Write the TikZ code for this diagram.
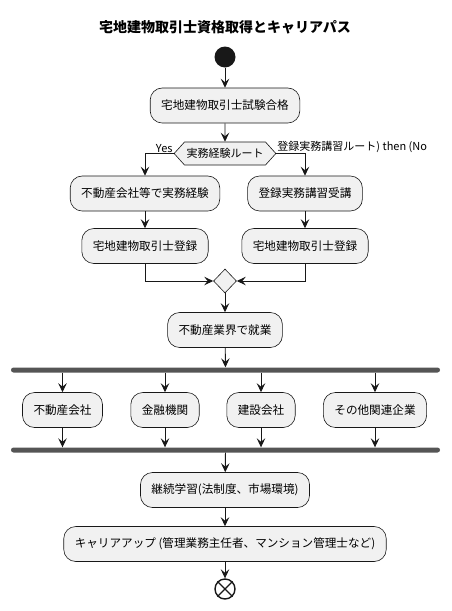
\documentclass[tikz,border=0pt]{standalone}
\usepackage{fontspec}
\setmainfont{Noto Sans CJK JP}
\usepackage{tikz}
\usetikzlibrary{arrows.meta, shapes.geometric, shapes.symbols}
\definecolor{boxfill}{HTML}{F1F1F1}
\definecolor{lineclr}{HTML}{181818}
\definecolor{barclr}{HTML}{555555}

\tikzset{
    act/.style={draw=lineclr, fill=boxfill, rounded corners=12pt, line width=0.6pt,
        minimum height=35pt, inner xsep=11pt, font=\fontsize{11.6}{13}\selectfont},
    arr/.style={draw=lineclr, line width=0.9pt,
        -{Stealth[length=9pt, width=8.5pt, inset=3.5pt]}},
    bar/.style={fill=barclr, draw=none, rounded corners=2.5pt, inner sep=0pt,
        minimum width=429pt, minimum height=5pt},
}

\begin{document}
\begin{tikzpicture}[x=1pt, y=-1pt]

    % ==========================================
    % FRAME & TITLE
    % ==========================================

    \useasboundingbox (0,0) rectangle (451,611);

    \node (title) at (225,27) {\fontsize{14}{16}\selectfont\bfseries 宅地建物取引士資格取得とキャリアパス};

    % ==========================================
    % START, EXAM, DECISION
    % ==========================================

    \node[circle, fill=lineclr, minimum size=21pt, inner sep=0pt] (start) at (225,57) {};
    \node[act] (pass) at (225,105.5) {宅地建物取引士試験合格};

    \node[signal, signal to=west and east, signal pointer angle=96, draw=lineclr, fill=boxfill,
        line width=0.6pt, minimum height=23pt, inner xsep=2pt, inner ysep=0pt,
        font=\fontsize{11}{13}\selectfont] (route) at (225,153.5) {実務経験ルート};

    \node[anchor=south east, inner sep=1pt, font=\fontsize{11}{13}\selectfont] (yes) at (route.west) {Yes};
    \node[anchor=south west, inner sep=1pt, font=\fontsize{11}{13}\selectfont] (no) at (route.east) {登録実務講習ルート) then (No};

    % ==========================================
    % TWO ROUTES
    % ==========================================

    \node[act] (exp) at (145,193.5) {不動産会社等で実務経験};
    \node[act] (lecture) at (305,193.5) {登録実務講習受講};
    \node[act] (regA) at (145,246) {宅地建物取引士登録};
    \node[act] (regB) at (305,246) {宅地建物取引士登録};

    \node[diamond, draw=lineclr, fill=boxfill, line width=0.6pt, inner sep=0pt,
        minimum width=23pt, minimum height=24pt] (merge) at (225,281) {};

    \draw[arr] (start) -- (pass);
    \draw[arr] (pass) -- (route);
    \draw[arr] (route.west) -| (exp);
    \draw[arr] (route.east) -| (lecture);
    \draw[arr] (exp) -- (regA);
    \draw[arr] (lecture) -- (regB);
    \draw[arr] (regA) |- (merge);
    \draw[arr] (regB) |- (merge);

    % ==========================================
    % WORK & FORK
    % ==========================================

    \node[act] (work) at (225,330) {不動産業界で就業};
    \node[bar] (fork) at (225.5,370) {};

    \node[act] (orgA) at (62.5,410) {不動産会社};
    \node[act] (orgB) at (165,410) {金融機関};
    \node[act] (orgC) at (261,410) {建設会社};
    \node[act] (orgD) at (375,410) {その他関連企業};

    \node[bar] (join) at (225.5,450) {};

    \draw[arr] (merge) -- (work);
    \draw[arr] (work) -- (fork);
    \foreach \org in {orgA, orgB, orgC, orgD} {
        \draw[arr] (fork.south -| \org) -- (\org);
        \draw[arr] (\org) -- (\org |- join.north);
    }

    % ==========================================
    % STUDY, CAREER, END
    % ==========================================

    \node[act] (study) at (225,490) {継続学習(法制度、市場環境)};
    \node[act] (career) at (225,544) {キャリアアップ (管理業務主任者、マンション管理士など)};

    \node[circle, draw=lineclr, line width=1.4pt, minimum size=20pt, inner sep=0pt] (stop) at (225,589) {};
    \draw[lineclr, line width=1.4pt] (stop.north east) -- (stop.south west);
    \draw[lineclr, line width=1.4pt] (stop.north west) -- (stop.south east);

    \draw[arr] (join) -- (study);
    \draw[arr] (study) -- (career);
    \draw[arr] (career) -- (stop);

\end{tikzpicture}
\end{document}
